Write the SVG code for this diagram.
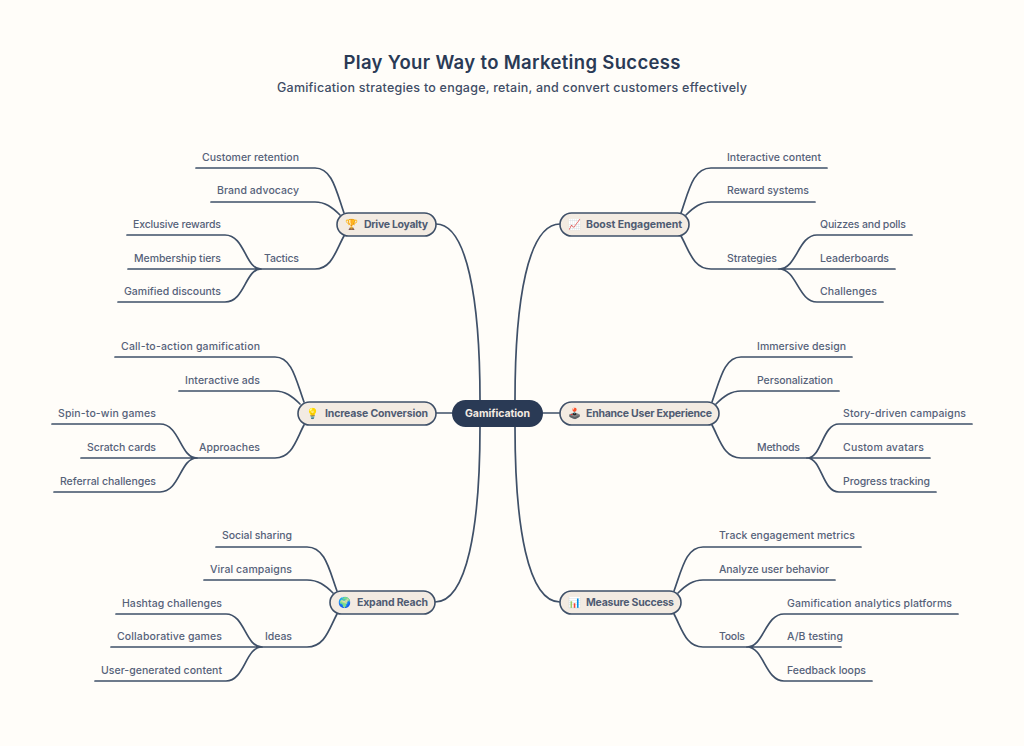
<svg xmlns="http://www.w3.org/2000/svg" width="1024" height="746" viewBox="0 0 1024 746">
<style>
text{font-family:"Inter","Noto Sans","Liberation Sans",sans-serif}
.leaf{font-size:10.5px;fill:#566279;font-weight:500}
.branch{font-size:10.5px;fill:#4f5b72;font-weight:700}
.box{fill:#f3ebe2;stroke:#3f5068;stroke-width:1.6}
.emoji{font-size:10.5px;font-family:"Noto Color Emoji",sans-serif}
#connectors path{fill:none;stroke:#3f5068;stroke-width:1.7;stroke-linecap:round}
</style>
<rect width="1024" height="746" fill="#fffdf9"/>
<g id="title">
<text x="512" y="69" text-anchor="middle" font-size="18.5" font-weight="600" fill="#2a3a55" textLength="337">Play Your Way to Marketing Success</text>
<text x="512" y="92" text-anchor="middle" font-size="12.5" font-weight="500" fill="#3f4d66" textLength="470">Gamification strategies to engage, retain, and convert customers effectively</text>
</g>
<g id="connectors">
<path d="M480 400C480 300 467 224 436 224"/>
<path d="M515 400C515 300 528 224 560 224"/>
<path d="M480 427C480 527 467 602 435 602"/>
<path d="M515 427C515 527 528 602 560 602"/>
<path d="M436 413H452M543 413H560"/>
<path d="M344 213C336 190 332 168 315 168H196"/>
<path d="M340 215C332 207 325 202 315 202H211"/>
<path d="M344 236C336 250 332 269 315 269H258"/>
<path d="M261 269C245 269 245 235 225 235H127M261 269H128M261 269C245 269 245 302 225 302H118"/>
<path d="M304 402C296 380 292 357 275 357H115"/>
<path d="M300 404C292 396 285 391 275 391H179"/>
<path d="M304 425C296 440 292 458 275 458H193"/>
<path d="M197 458C180 458 180 424 160 424H52M197 458H81M197 458C180 458 180 492 160 492H54"/>
<path d="M337 591C329 569 325 547 307 547H216"/>
<path d="M333 593C325 585 318 580 307 580H204"/>
<path d="M337 614C329 629 325 647 307 647H259"/>
<path d="M262 647C245 647 245 614 226 614H116M262 647H111M262 647C245 647 245 681 226 681H95"/>
<path d="M681 213C689 190 693 168 711 168H827"/>
<path d="M686 215C694 207 701 202 711 202H815"/>
<path d="M681 236C689 250 693 269 711 269H779"/>
<path d="M779 269C797 269 798 235 817 235H912M779 269H895M779 269C797 269 798 302 817 302H883"/>
<path d="M712 402C720 380 724 357 741 357H852"/>
<path d="M716 404C724 396 731 391 741 391H839"/>
<path d="M712 425C720 440 724 458 741 458H807"/>
<path d="M807 458C822 458 822 424 839 424H972M807 458H930M807 458C822 458 822 492 839 492H936"/>
<path d="M674 591C682 569 686 547 703 547H861"/>
<path d="M678 593C686 585 693 580 703 580H835"/>
<path d="M674 614C682 629 686 647 703 647H747"/>
<path d="M747 647C764 647 765 614 784 614H958M747 647H841M747 647C764 647 765 681 784 681H872"/>
</g>
<g id="root"><rect x="452" y="400" width="91" height="27" rx="13.5" fill="#2a3a55"/><text x="497.5" y="417" text-anchor="middle" font-size="10.5" font-weight="700" fill="#f3ebe2" textLength="65">Gamification</text></g>
<g id="drive-loyalty"><rect class="box" x="337" y="213" width="99" height="23" rx="11.5"/><text class="emoji" x="345" y="228">🏆</text><text class="branch" x="364" y="228" textLength="64">Drive Loyalty</text></g>
<g id="increase-conversion"><rect class="box" x="298" y="402" width="138" height="23" rx="11.5"/><text class="emoji" x="306" y="417">💡</text><text class="branch" x="325" y="417" textLength="103">Increase Conversion</text></g>
<g id="expand-reach"><rect class="box" x="330" y="591" width="105" height="23" rx="11.5"/><text class="emoji" x="338" y="606">🌍</text><text class="branch" x="357" y="606" textLength="71">Expand Reach</text></g>
<g id="boost-engagement"><rect class="box" x="560" y="213" width="129" height="23" rx="11.5"/><text class="emoji" x="568" y="228">📈</text><text class="branch" x="586" y="228" textLength="96">Boost Engagement</text></g>
<g id="enhance-ux"><rect class="box" x="560" y="402" width="159" height="23" rx="11.5"/><text class="emoji" x="568" y="417">🕹️</text><text class="branch" x="586" y="417" textLength="126">Enhance User Experience</text></g>
<g id="measure-success"><rect class="box" x="560" y="591" width="121" height="23" rx="11.5"/><text class="emoji" x="568" y="606">📊</text><text class="branch" x="586" y="606" textLength="88">Measure Success</text></g>
<g id="leaves-drive">
<text class="leaf" x="202" y="161" textLength="97">Customer retention</text>
<text class="leaf" x="217" y="194" textLength="82">Brand advocacy</text>
<text class="leaf" x="264" y="262" textLength="35">Tactics</text>
<text class="leaf" x="133" y="228" textLength="88">Exclusive rewards</text>
<text class="leaf" x="134" y="262" textLength="87">Membership tiers</text>
<text class="leaf" x="124" y="295" textLength="97">Gamified discounts</text>
</g>
<g id="leaves-increase">
<text class="leaf" x="121" y="350" textLength="139">Call-to-action gamification</text>
<text class="leaf" x="185" y="384" textLength="75">Interactive ads</text>
<text class="leaf" x="199" y="451" textLength="61">Approaches</text>
<text class="leaf" x="58" y="417" textLength="98">Spin-to-win games</text>
<text class="leaf" x="87" y="451" textLength="69">Scratch cards</text>
<text class="leaf" x="60" y="485" textLength="96">Referral challenges</text>
</g>
<g id="leaves-expand">
<text class="leaf" x="222" y="539" textLength="70">Social sharing</text>
<text class="leaf" x="210" y="573" textLength="82">Viral campaigns</text>
<text class="leaf" x="265" y="640" textLength="27">Ideas</text>
<text class="leaf" x="122" y="607" textLength="100">Hashtag challenges</text>
<text class="leaf" x="117" y="640" textLength="105">Collaborative games</text>
<text class="leaf" x="101" y="674" textLength="121">User-generated content</text>
</g>
<g id="leaves-boost">
<text class="leaf" x="727" y="161" textLength="94">Interactive content</text>
<text class="leaf" x="727" y="194" textLength="82">Reward systems</text>
<text class="leaf" x="727" y="262" textLength="50">Strategies</text>
<text class="leaf" x="820" y="228" textLength="86">Quizzes and polls</text>
<text class="leaf" x="820" y="262" textLength="69">Leaderboards</text>
<text class="leaf" x="820" y="295" textLength="57">Challenges</text>
</g>
<g id="leaves-enhance">
<text class="leaf" x="757" y="350" textLength="89">Immersive design</text>
<text class="leaf" x="757" y="384" textLength="76">Personalization</text>
<text class="leaf" x="757" y="451" textLength="43">Methods</text>
<text class="leaf" x="843" y="417" textLength="123">Story-driven campaigns</text>
<text class="leaf" x="843" y="451" textLength="81">Custom avatars</text>
<text class="leaf" x="843" y="485" textLength="87">Progress tracking</text>
</g>
<g id="leaves-measure">
<text class="leaf" x="719" y="539" textLength="136">Track engagement metrics</text>
<text class="leaf" x="719" y="573" textLength="110">Analyze user behavior</text>
<text class="leaf" x="719" y="640" textLength="26">Tools</text>
<text class="leaf" x="787" y="607" textLength="165">Gamification analytics platforms</text>
<text class="leaf" x="787" y="640" textLength="56">A/B testing</text>
<text class="leaf" x="787" y="674" textLength="79">Feedback loops</text>
</g>
</svg>
